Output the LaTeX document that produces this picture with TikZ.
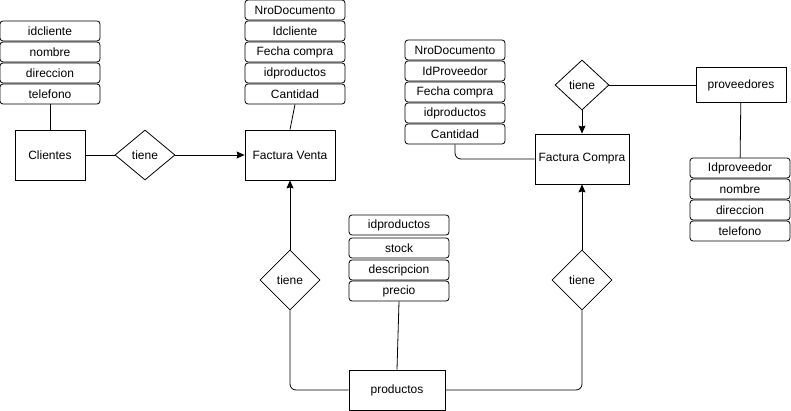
\documentclass[tikz,border=0pt]{standalone}
\usepackage{fontspec}
\setmainfont{Liberation Sans}
\usetikzlibrary{shapes.geometric,arrows.meta}
\tikzset{
  attr/.style={draw, rounded corners=3pt, minimum width=100pt, minimum height=20pt, inner sep=0pt},
  entity/.style={draw, minimum width=#1, inner sep=0pt},
  rel/.style={draw, diamond, inner sep=0pt},
  link/.style={draw, line width=0.8pt},
  tip/.style={-{Stealth[length=8pt,width=7pt,inset=1pt]}}
}
\begin{document}
\begin{tikzpicture}[x=1pt, y=-1pt, line width=0.8pt, font=\fontsize{12}{14}\selectfont]
      \useasboundingbox (0,0) rectangle (791,411);
      % entidades
      \node[entity=70pt, minimum height=50pt] (cli) at (50,155) {Clientes};
      \node[entity=90pt, minimum height=50pt] (fv) at (290,155) {Factura Venta};
      \node[entity=94pt, minimum height=50pt] (fc) at (582,159) {Factura Compra};
      \node[entity=90pt, minimum height=35pt] (prov) at (741,85) {proveedores};
      \node[entity=96pt, minimum height=40pt] (prod) at (397,390) {productos};
      % relaciones
      \node[rel, minimum width=60pt, minimum height=50pt] (r1) at (145,155) {tiene};
      \node[rel, minimum width=60pt, minimum height=60pt] (r2) at (290,280) {tiene};
      \node[rel, minimum width=60pt, minimum height=60pt] (r3) at (582,280) {tiene};
      \node[rel, minimum width=54pt, minimum height=50pt] (r4) at (582,85) {tiene};
      % atributos clientes
      \node[attr] (c1) at (50,31) {idcliente};
      \node[attr] (c2) at (50,52) {nombre};
      \node[attr] (c3) at (50,73) {direccion};
      \node[attr] (c4) at (50,94) {telefono};
      % atributos factura venta
      \node[attr] (v1) at (295,10) {NroDocumento};
      \node[attr] (v2) at (295,31) {Idcliente};
      \node[attr] (v3) at (295,52) {Fecha compra};
      \node[attr] (v4) at (295,73) {idproductos};
      \node[attr] (v5) at (295,94) {Cantidad};
      % atributos factura compra
      \node[attr] (f1) at (455,50) {NroDocumento};
      \node[attr] (f2) at (455,71) {IdProveedor};
      \node[attr] (f3) at (455,92) {Fecha compra};
      \node[attr] (f4) at (455,113) {idproductos};
      \node[attr] (f5) at (455,134) {Cantidad};
      % atributos proveedores
      \node[attr] (p1) at (740,168) {Idproveedor};
      \node[attr] (p2) at (740,189) {nombre};
      \node[attr] (p3) at (740,210) {direccion};
      \node[attr] (p4) at (740,231) {telefono};
      % atributos productos
      \node[attr] (d1) at (399,225) {idproductos};
      \node[attr] (d2) at (399,248) {stock};
      \node[attr] (d3) at (399,270) {descripcion};
      \node[attr] (d4) at (399,291) {precio};
      \begin{scope}[-]
        \draw (c4) to (cli);
        \draw (cli) to (r1);
        \draw[tip] (r1) to (fv);
        \draw (v5.south) to (fv.north);
        \draw[tip] (r2) to (fv);
        \draw[rounded corners=6pt] (r2.south) |- (prod.west);
        \draw[rounded corners=6pt] (prod.east) -| (r3.south);
        \draw[tip] (r3) to (fc);
        \draw[rounded corners=6pt] (f5.south) |- (fc.west);
        \draw[tip] (r4) to (fc);
        \draw (r4) to (prov);
        \draw (prov) to (p1);
        \draw (d4.south) to (prod.north);
      \end{scope}
    \end{tikzpicture}
\end{document}
